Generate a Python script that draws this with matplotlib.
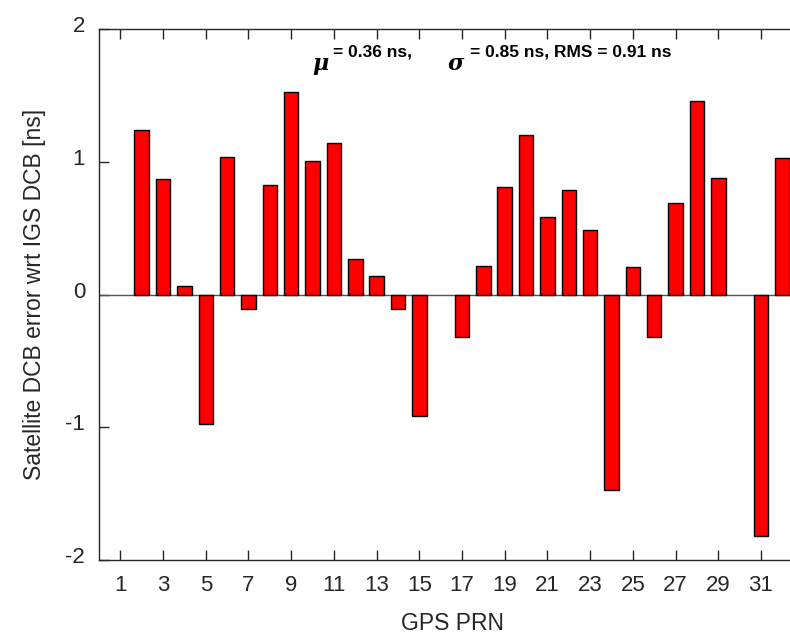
import numpy as np
import matplotlib.pyplot as plt
import matplotlib.transforms as mtransforms

# satellite DCB error per GPS PRN (ns); nan = no bar
prn = np.arange(1, 33)
dcb_err = [np.nan, 1.236, 0.873, 0.061, -0.972, 1.038, -0.112, 0.828,
           1.529, 1.005, 1.138, 0.266, 0.141, -0.107, -0.919, np.nan,
           -0.323, 0.216, 0.813, 1.204, 0.582, 0.790, 0.489, -1.476,
           0.204, -0.320, 0.687, 1.459, 0.880, np.nan, -1.822, 1.031]
xticks = list(range(1, 32, 2))
yticks = [-2, -1, 0, 1, 2]

plt.rcParams['font.family'] = ['Liberation Sans', 'DejaVu Sans']
axcol = '#262626'

fig = plt.figure(figsize=(7.9, 6.36), dpi=100)
W, H = 790, 636
ax = fig.add_axes([99 / W, (H - 560) / H, (W - 99) / W + 0.02, (560 - 29) / H])

ax.bar(prn, dcb_err, width=0.68, color='#ff0000', edgecolor='black', linewidth=1, zorder=3)
ax.axhline(0, color='#555555', linewidth=1, zorder=2)

ax.set_xlim(0, 33.1)
ax.set_ylim(-2, 2)
ax.set_xticks(xticks)
ax.set_yticks(yticks)
ax.set_yticklabels([str(v) for v in yticks])
ax.tick_params(direction='in', length=7, width=1, colors=axcol, labelsize=16,
               top=True, right=False)
ax.tick_params(axis='x', pad=11)
ax.tick_params(axis='y', pad=10)
# y labels sit a few pixels above their ticks in the original
shift = mtransforms.ScaledTranslation(0, 5 / 100, fig.dpi_scale_trans)
for lbl in ax.get_yticklabels():
    lbl.set_transform(lbl.get_transform() + shift)
for s in ['left', 'bottom', 'top']:
    ax.spines[s].set_color(axcol)
    ax.spines[s].set_linewidth(1)
ax.spines['right'].set_visible(False)

ax.set_xlabel('GPS PRN', fontsize=16.5, color=axcol, labelpad=11)
ax.set_ylabel('Satellite DCB error wrt IGS DCB [ns]', fontsize=16.5, color=axcol, labelpad=14)

# stats annotation
fig.text(320 / W, 1 - 64 / H, '\u03bc', fontsize=16, fontweight='bold', style='italic',
         family='DejaVu Serif', ha='center', va='center')
fig.text(333 / W, 1 - 52 / H, '= 0.36 ns,', fontsize=12.5, fontweight='bold',
         ha='left', va='center')
fig.text(456 / W, 1 - 64 / H, '\u03c3', fontsize=16, fontweight='bold', style='italic',
         family='DejaVu Serif', ha='center', va='center')
fig.text(470 / W, 1 - 52 / H, '= 0.85 ns, RMS = 0.91 ns', fontsize=12.5, fontweight='bold',
         ha='left', va='center')

fig.savefig('out.png', dpi=100)
